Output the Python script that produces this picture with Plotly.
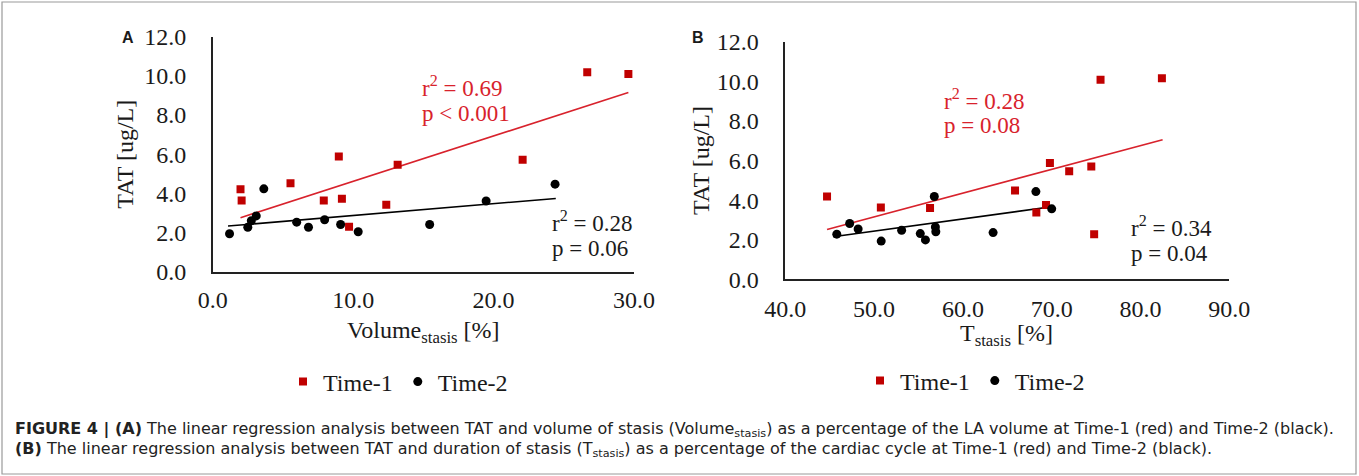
import plotly.graph_objects as go

W, H = 1359, 476

# ---- Data ----
# Panel A: Volume_stasis [%] vs TAT [ug/L]
a_t1_x = [1.98, 2.06, 5.54, 8.98, 7.91, 9.20, 9.71, 13.17, 12.36, 22.07, 26.67, 29.60]
a_t1_y = [4.21, 3.64, 4.52, 5.88, 3.64, 3.73, 2.30, 5.46, 3.42, 5.72, 10.19, 10.10]
a_t2_x = [1.20, 2.50, 2.75, 3.10, 3.64, 5.98, 6.82, 7.97, 9.11, 10.36, 15.45, 19.47, 24.38]
a_t2_y = [1.94, 2.27, 2.60, 2.85, 4.23, 2.53, 2.27, 2.65, 2.41, 2.04, 2.41, 3.61, 4.47]
a_fit1_x = [1.98, 29.60]
a_fit1_y = [2.76, 9.15]
a_fit2_x = [1.09, 24.43]
a_fit2_y = [2.33, 3.74]

# Panel B: T_stasis [%] vs TAT [ug/L]
b_t1_x = [44.7, 50.76, 56.3, 65.87, 68.27, 69.36, 69.8, 71.97, 74.46, 74.78, 75.5, 82.41]
b_t1_y = [4.18, 3.63, 3.60, 4.48, 3.37, 3.75, 5.87, 5.46, 5.70, 2.28, 10.08, 10.16]
b_t2_x = [45.8, 47.25, 48.2, 50.8, 53.1, 55.2, 55.78, 56.78, 56.9, 56.95, 63.4, 68.22, 70.0]
b_t2_y = [2.28, 2.82, 2.54, 1.93, 2.48, 2.31, 1.99, 4.18, 2.64, 2.40, 2.36, 4.43, 3.56]
b_fit1_x = [44.7, 82.49]
b_fit1_y = [2.52, 7.05]
b_fit2_x = [45.38, 69.96]
b_fit2_y = [2.15, 3.66]

y_ticks = [0, 2, 4, 6, 8, 10, 12]
a_x_ticks = [0, 10, 20, 30]
b_x_ticks = [40, 50, 60, 70, 80, 90]
series_names = ["Time-1", "Time-2"]

RED = "#c00000"
RED_LINE = "#d8222c"
BLACK = "#000000"
SERIF = "Liberation Serif, Times New Roman, serif"
SANS = "Liberation Sans, Arial, sans-serif"
CAP_FONT = "DejaVu Sans, Liberation Sans, sans-serif"
TXT = "#1a1a1a"
FS = 24
FS_ANN = 23


def px(x):
    return x / W


def py(y):
    return 1 - y / H


fig = go.Figure()

# Panel A traces
fig.add_trace(go.Scatter(x=a_fit1_x, y=a_fit1_y, mode="lines", line=dict(color=RED_LINE, width=1.6),
                         showlegend=False, xaxis="x", yaxis="y"))
fig.add_trace(go.Scatter(x=a_fit2_x, y=a_fit2_y, mode="lines", line=dict(color=BLACK, width=1.6),
                         showlegend=False, xaxis="x", yaxis="y"))
fig.add_trace(go.Scatter(x=a_t1_x, y=a_t1_y, mode="markers", name=series_names[0],
                         marker=dict(symbol="square", size=8, color=RED), xaxis="x", yaxis="y",
                         legend="legend"))
fig.add_trace(go.Scatter(x=a_t2_x, y=a_t2_y, mode="markers", name=series_names[1],
                         marker=dict(symbol="circle", size=9, color=BLACK), xaxis="x", yaxis="y",
                         legend="legend"))

# Panel B traces
fig.add_trace(go.Scatter(x=b_fit1_x, y=b_fit1_y, mode="lines", line=dict(color=RED_LINE, width=1.6),
                         showlegend=False, xaxis="x2", yaxis="y2"))
fig.add_trace(go.Scatter(x=b_fit2_x, y=b_fit2_y, mode="lines", line=dict(color=BLACK, width=1.6),
                         showlegend=False, xaxis="x2", yaxis="y2"))
fig.add_trace(go.Scatter(x=b_t1_x, y=b_t1_y, mode="markers", name=series_names[0],
                         marker=dict(symbol="square", size=8, color=RED), xaxis="x2", yaxis="y2",
                         legend="legend2"))
fig.add_trace(go.Scatter(x=b_t2_x, y=b_t2_y, mode="markers", name=series_names[1],
                         marker=dict(symbol="circle", size=9, color=BLACK), xaxis="x2", yaxis="y2",
                         legend="legend2"))

axis_common = dict(showgrid=False, zeroline=False, showline=True, linecolor="#222", linewidth=1.5,
                   ticks="", tickfont=dict(family=SERIF, size=FS, color=TXT), fixedrange=True,
                   automargin=False)

fig.update_layout(
    width=W, height=H, margin=dict(l=0, r=0, t=0, b=0, autoexpand=False),
    paper_bgcolor="white", plot_bgcolor="white",
    showlegend=True,
    xaxis=dict(axis_common, domain=[px(212.7), px(634)], range=[0, 30], tickvals=a_x_ticks,
               ticktext=[f"{v:.1f}" for v in a_x_ticks], anchor="y", ticklabelstandoff=6),
    yaxis=dict(axis_common, domain=[py(271.7), py(36.7)], range=[0, 12], tickvals=y_ticks,
               ticktext=[f"{v:.1f}" for v in y_ticks], anchor="x", ticklabelstandoff=20,
               title=dict(text="TAT [ug/L]", font=dict(family=SERIF, size=FS, color=TXT), standoff=4)),
    xaxis2=dict(axis_common, domain=[px(785.3), px(1229.3)], range=[40, 90], tickvals=b_x_ticks,
                ticktext=[f"{v:.1f}" for v in b_x_ticks], anchor="y2", ticklabelstandoff=7),
    yaxis2=dict(axis_common, domain=[py(279.3), py(41.7)], range=[0, 12], tickvals=y_ticks,
                ticktext=[f"{v:.1f}" for v in y_ticks], anchor="x2", ticklabelstandoff=20,
                title=dict(text="TAT [ug/L]", font=dict(family=SERIF, size=FS, color=TXT), standoff=0)),
    legend=dict(orientation="h", x=px(283), y=py(382), xanchor="left", yanchor="middle",
                font=dict(family=SERIF, size=FS, color=TXT), itemwidth=30, bgcolor="rgba(0,0,0,0)",
                tracegroupgap=0),
    legend2=dict(orientation="h", x=px(860), y=py(381), xanchor="left", yanchor="middle",
                 font=dict(family=SERIF, size=FS, color=TXT), itemwidth=30, bgcolor="rgba(0,0,0,0)",
                 tracegroupgap=0),
)

annots = []


def add_text(text, x, y, color=TXT, size=FS_ANN, family=SERIF, xanchor="left"):
    annots.append(dict(text=text, x=px(x), y=py(y), xref="paper", yref="paper", showarrow=False,
                       xanchor=xanchor, yanchor="middle", font=dict(family=family, size=size, color=color)))


# X-axis titles
add_text("Volume<sub>stasis</sub> [%]", 423, 332, size=FS, xanchor="center")
add_text("T<sub>stasis</sub> [%]", 1006, 335, size=FS, xanchor="center")

# Panel letters
add_text("<b>A</b>", 128, 38, family=SANS, size=16, xanchor="center")
add_text("<b>B</b>", 698, 38, family=SANS, size=16, xanchor="center")

# Panel A stats
add_text("r<sup>2</sup> = 0.69", 420, 86, color=RED_LINE)
add_text("p < 0.001", 420, 113, color=RED_LINE)
add_text("r<sup>2</sup> = 0.28", 550, 221)
add_text("p = 0.06", 550, 248)

# Panel B stats
add_text("r<sup>2</sup> = 0.28", 942, 99, color=RED_LINE)
add_text("p = 0.08", 942, 126, color=RED_LINE)
add_text("r<sup>2</sup> = 0.34", 1129, 226)
add_text("p = 0.04", 1129, 253)

# Caption
cap1 = ("<b>FIGURE 4 | (A)</b> The linear regression analysis between TAT and volume of stasis "
        "(Volume<sub>stasis</sub>) as a percentage of the LA volume at Time-1 (red) and Time-2 (black).")
cap2 = ("<b>(B)</b> The linear regression analysis between TAT and duration of stasis "
        "(T<sub>stasis</sub>) as a percentage of the cardiac cycle at Time-1 (red) and Time-2 (black).")
add_text(cap1, 13, 429, size=16, family=CAP_FONT, color="#222")
add_text(cap2, 13, 449, size=16, family=CAP_FONT, color="#222")

fig.update_layout(annotations=annots)

fig.add_shape(type="rect", xref="paper", yref="paper", x0=px(2), x1=px(1356), y0=py(474), y1=py(2),
              line=dict(color="#9a9a9a", width=1.2), fillcolor="rgba(0,0,0,0)")

fig.write_html("out.html", config={"displayModeBar": False},
               post_script="document.body.style.margin='0';document.body.style.overflow='hidden';")
